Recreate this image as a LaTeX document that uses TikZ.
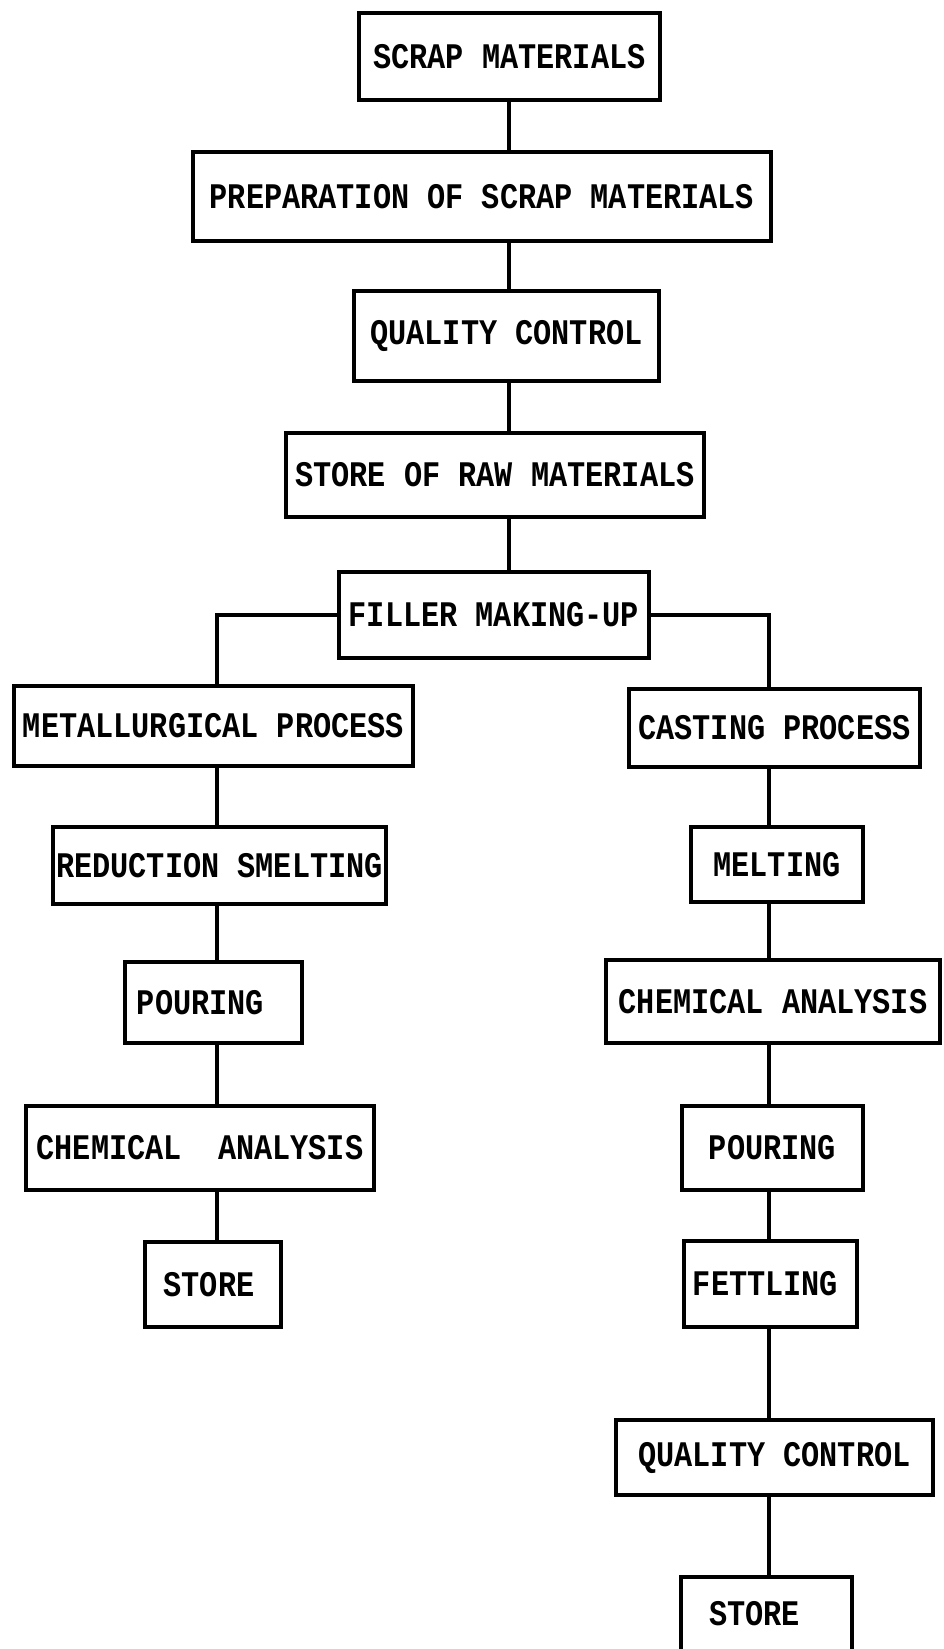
\documentclass[tikz,border=0pt]{standalone}
\usepackage{fontspec}
\newfontfamily\typer[FakeStretch=0.84]{Liberation Mono}
\begin{document}
\begin{tikzpicture}[x=1pt,y=-1pt,
  box/.style={draw=black, line width=4pt, fill=white, inner sep=0pt,
    font=\typer\bfseries\fontsize{36}{40}\selectfont},
  link/.style={draw=black, line width=3.8pt}]
\clip (0,0) rectangle (944,1649);
\fill[white] (0,0) rectangle (944,1649);

% spine positions
\coordinate (M) at (509,0);
\coordinate (L) at (217,0);
\coordinate (R) at (769,0);

% main column
\node[box, minimum width=301, minimum height=87] (scrap) at (509.5,56.5) {SCRAP MATERIALS};
\node[box, minimum width=578, minimum height=89] (prep) at (482,196.5) {PREPARATION OF SCRAP MATERIALS};
\node[box, minimum width=305, minimum height=90] (qc1) at (506.5,336) {QUALITY CONTROL};
\node[box, minimum width=418, minimum height=84] (raw) at (495,475) {STORE OF RAW MATERIALS};
\node[box, minimum width=310, minimum height=86] (filler) at (494,615) {FILLER MAKING-UP};

% left branch
\node[box, minimum width=399, minimum height=80] (metal) at (213.5,726) {METALLURGICAL PROCESS};
\node[box, minimum width=333, minimum height=77] (reduc) at (219.5,865.5) {REDUCTION SMELTING};
\node[box, minimum width=177, minimum height=81] (pourL) at (213.5,1002.5) {\hspace*{-26pt}POURING};
\node[box, minimum width=348, minimum height=84] (chemL) at (200,1148) {CHEMICAL~~ANALYSIS};
\node[box, minimum width=136, minimum height=85] (storeL) at (213,1284.5) {\hspace*{-8pt}STORE};

% right branch
\node[box, minimum width=291, minimum height=78] (cast) at (774.5,728) {CASTING PROCESS};
\node[box, minimum width=172, minimum height=75] (melt) at (777,864.5) {MELTING};
\node[box, minimum width=334, minimum height=83] (chemR) at (773,1001.5) {CHEMICAL ANALYSIS};
\node[box, minimum width=181, minimum height=84] (pourR) at (772.5,1148) {POURING};
\node[box, minimum width=173, minimum height=86] (fett) at (770.5,1284) {\hspace*{-10pt}FETTLING};
\node[box, minimum width=317, minimum height=75] (qc2) at (774.5,1457.5) {QUALITY CONTROL};
\node[box, minimum width=171, minimum height=92, text depth=20pt] (storeR) at (766.5,1623) {\hspace*{-24pt}STORE};

% connectors: main column
\draw[link] (scrap.south -| M) -- (prep.north -| M);
\draw[link] (prep.south -| M) -- (qc1.north -| M);
\draw[link] (qc1.south -| M) -- (raw.north -| M);
\draw[link] (raw.south -| M) -- (filler.north -| M);

% connectors: split
\draw[link] (filler.west) -- (filler.west -| L) -- (metal.north -| L);
\draw[link] (filler.east) -- (filler.east -| R) -- (cast.north -| R);

% connectors: left branch
\draw[link] (metal.south -| L) -- (reduc.north -| L);
\draw[link] (reduc.south -| L) -- (pourL.north -| L);
\draw[link] (pourL.south -| L) -- (chemL.north -| L);
\draw[link] (chemL.south -| L) -- (storeL.north -| L);

% connectors: right branch
\draw[link] (cast.south -| R) -- (melt.north -| R);
\draw[link] (melt.south -| R) -- (chemR.north -| R);
\draw[link] (chemR.south -| R) -- (pourR.north -| R);
\draw[link] (pourR.south -| R) -- (fett.north -| R);
\draw[link] (fett.south -| R) -- (qc2.north -| R);
\draw[link] (qc2.south -| R) -- (storeR.north -| R);
\end{tikzpicture}
\end{document}
